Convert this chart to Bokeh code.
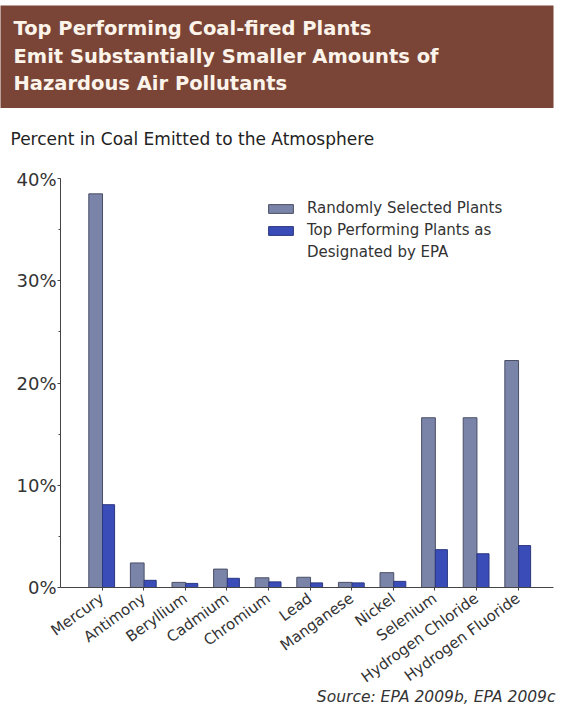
import math
from bokeh.plotting import figure
from bokeh.models import (Range1d, ColumnDataSource, Legend, LegendItem, FixedTicker, Label)
from bokeh.layouts import column
from bokeh.transform import dodge
from bokeh.core.properties import value
from bokeh.embed import file_html
from bokeh.resources import INLINE

title_lines = ["Top Performing Coal-fired Plants",
               "Emit Substantially Smaller Amounts of",
               "Hazardous Air Pollutants"]
subtitle = ["Percent in Coal Emitted to the Atmosphere"]
source_note = "Source: EPA 2009b, EPA 2009c"

categories = ["Mercury", "Antimony", "Beryllium", "Cadmium", "Chromium", "Lead",
              "Manganese", "Nickel", "Selenium", "Hydrogen Chloride", "Hydrogen Fluoride"]
random_plants = [38.5, 2.4, 0.5, 1.8, 0.95, 1.0, 0.5, 1.45, 16.6, 16.6, 22.2]
top_plants = [8.1, 0.7, 0.4, 0.9, 0.55, 0.45, 0.45, 0.6, 3.7, 3.3, 4.1]
y_ticks = [0, 10, 20, 30, 40]
y_tick_labels = ["0%", "10%", "20%", "30%", "40%"]
legend_lines = ["Randomly Selected Plants", "Top Performing Plants as", "Designated by EPA"]

FONT = "DejaVu Sans"
W = 563


def text_strip(height, bg, top_border=0, right_border=0):
    f = figure(width=W, height=height, x_range=Range1d(0, W - right_border),
               y_range=Range1d(0, height - top_border),
               output_backend="svg", toolbar_location=None,
               min_border_left=0, min_border_right=right_border,
               min_border_top=top_border, min_border_bottom=0,
               background_fill_color=bg, border_fill_color="#ffffff",
               outline_line_color=None)
    f.frame_align = False
    f.axis.visible = False
    f.grid.visible = False
    return f


# ---------------- Header band ----------------
hdr = text_strip(108, "#7a4536", top_border=5, right_border=10)
hs = ColumnDataSource(dict(x=[13, 13, 13], y=[80, 52, 25], t=title_lines))
hdr.text(x="x", y="y", text="t", source=hs, text_color="#fcf4ea",
         text_font=value(FONT), text_font_style="bold", text_font_size="19.5px",
         text_baseline="middle", text_align="left")

# ---------------- Subtitle strip ----------------
sub = text_strip(60, "#ffffff")
sub.text(x=[10], y=[30], text=subtitle, text_color="#222222",
         text_font=value(FONT), text_font_size="17px",
         text_baseline="middle", text_align="left")

# ---------------- Main chart ----------------
# The frame fills the whole figure; both axes are pinned (fixed_location) inside it
PX_PER_Y = 409 / 40.0          # pixels per percentage point
PX_PER_X = 493 / 11.85         # pixels per category slot
x_axis_at = -1.0
x_start = x_axis_at - 60 / PX_PER_X
x_end = 10.85 + 10 / PX_PER_X
y_start = -(122 / PX_PER_Y)
y_end = 40 + 10 / PX_PER_Y

x_idx = list(range(len(categories)))
src = ColumnDataSource(dict(x=x_idx, r=random_plants, t=top_plants))

p = figure(width=W, height=541, x_range=Range1d(x_start, x_end), y_range=Range1d(y_start, y_end),
           output_backend="svg", toolbar_location=None,
           min_border_left=0, min_border_right=0, min_border_top=0, min_border_bottom=0,
           background_fill_color="white", border_fill_color="white", outline_line_color=None)
p.frame_align = False
p.grid.visible = False

rb = p.vbar(x=dodge("x", -0.155), top="r", width=0.33, bottom=0, source=src,
            fill_color="#7a84a8", line_color="#4a4f66", line_width=1)
tb = p.vbar(x=dodge("x", 0.155), top="t", width=0.29, bottom=0, source=src,
            fill_color="#3a4cb8", line_color="#2b3780", line_width=1)
blank = p.scatter(x=[], y=[], alpha=0)

p.yaxis.fixed_location = x_axis_at
p.yaxis.bounds = (0, 40)
p.yaxis.ticker = FixedTicker(ticks=y_ticks, minor_ticks=[5, 15, 25, 35])
p.yaxis.major_label_overrides = {k: v for k, v in zip(y_ticks, y_tick_labels)}
p.yaxis.major_label_text_font = FONT
p.yaxis.major_label_text_font_size = "18px"
p.yaxis.major_label_text_color = "#333333"
p.yaxis.axis_line_color = "#444444"
p.yaxis.major_tick_out = 3
p.yaxis.major_tick_in = 0
p.yaxis.minor_tick_out = 2
p.yaxis.minor_tick_in = 0
p.yaxis.major_tick_line_color = "#444444"
p.yaxis.minor_tick_line_color = "#444444"
p.yaxis.major_label_standoff = 1

p.xaxis.fixed_location = 0
p.xaxis.bounds = (x_axis_at, 10.85)
p.xaxis.ticker = FixedTicker(ticks=x_idx)
p.xaxis.major_label_overrides = {i: c for i, c in enumerate(categories)}
p.xaxis.major_label_orientation = math.radians(36)
p.xaxis.major_label_text_font = FONT
p.xaxis.major_label_text_font_size = "15px"
p.xaxis.major_label_text_color = "#333333"
p.xaxis.axis_line_color = "#444444"
p.xaxis.major_tick_out = 3
p.xaxis.major_tick_in = 0
p.xaxis.minor_tick_line_color = None
p.xaxis.major_tick_line_color = "#444444"
p.xaxis.major_label_standoff = 6

legend = Legend(items=[LegendItem(label=legend_lines[0], renderers=[rb]),
                       LegendItem(label=legend_lines[1], renderers=[tb]),
                       LegendItem(label=legend_lines[2], renderers=[blank])],
                location=(265, 446), padding=0, margin=0, spacing=0,
                border_line_color=None, background_fill_alpha=0,
                label_text_font=FONT, label_text_font_size="15px",
                label_text_color="#333333", glyph_width=31, glyph_height=11,
                label_standoff=11, label_height=22)
p.add_layout(legend, "center")

p.add_layout(Label(x=x_start + 555 / PX_PER_X, y=-(109 / PX_PER_Y), text=source_note,
                   text_font=FONT, text_font_size="15.5px", text_font_style="italic",
                   text_color="#333333", text_align="right", text_baseline="middle"))

layout = column(hdr, sub, p, spacing=0)
open("out.html", "w").write(file_html(layout, INLINE))
